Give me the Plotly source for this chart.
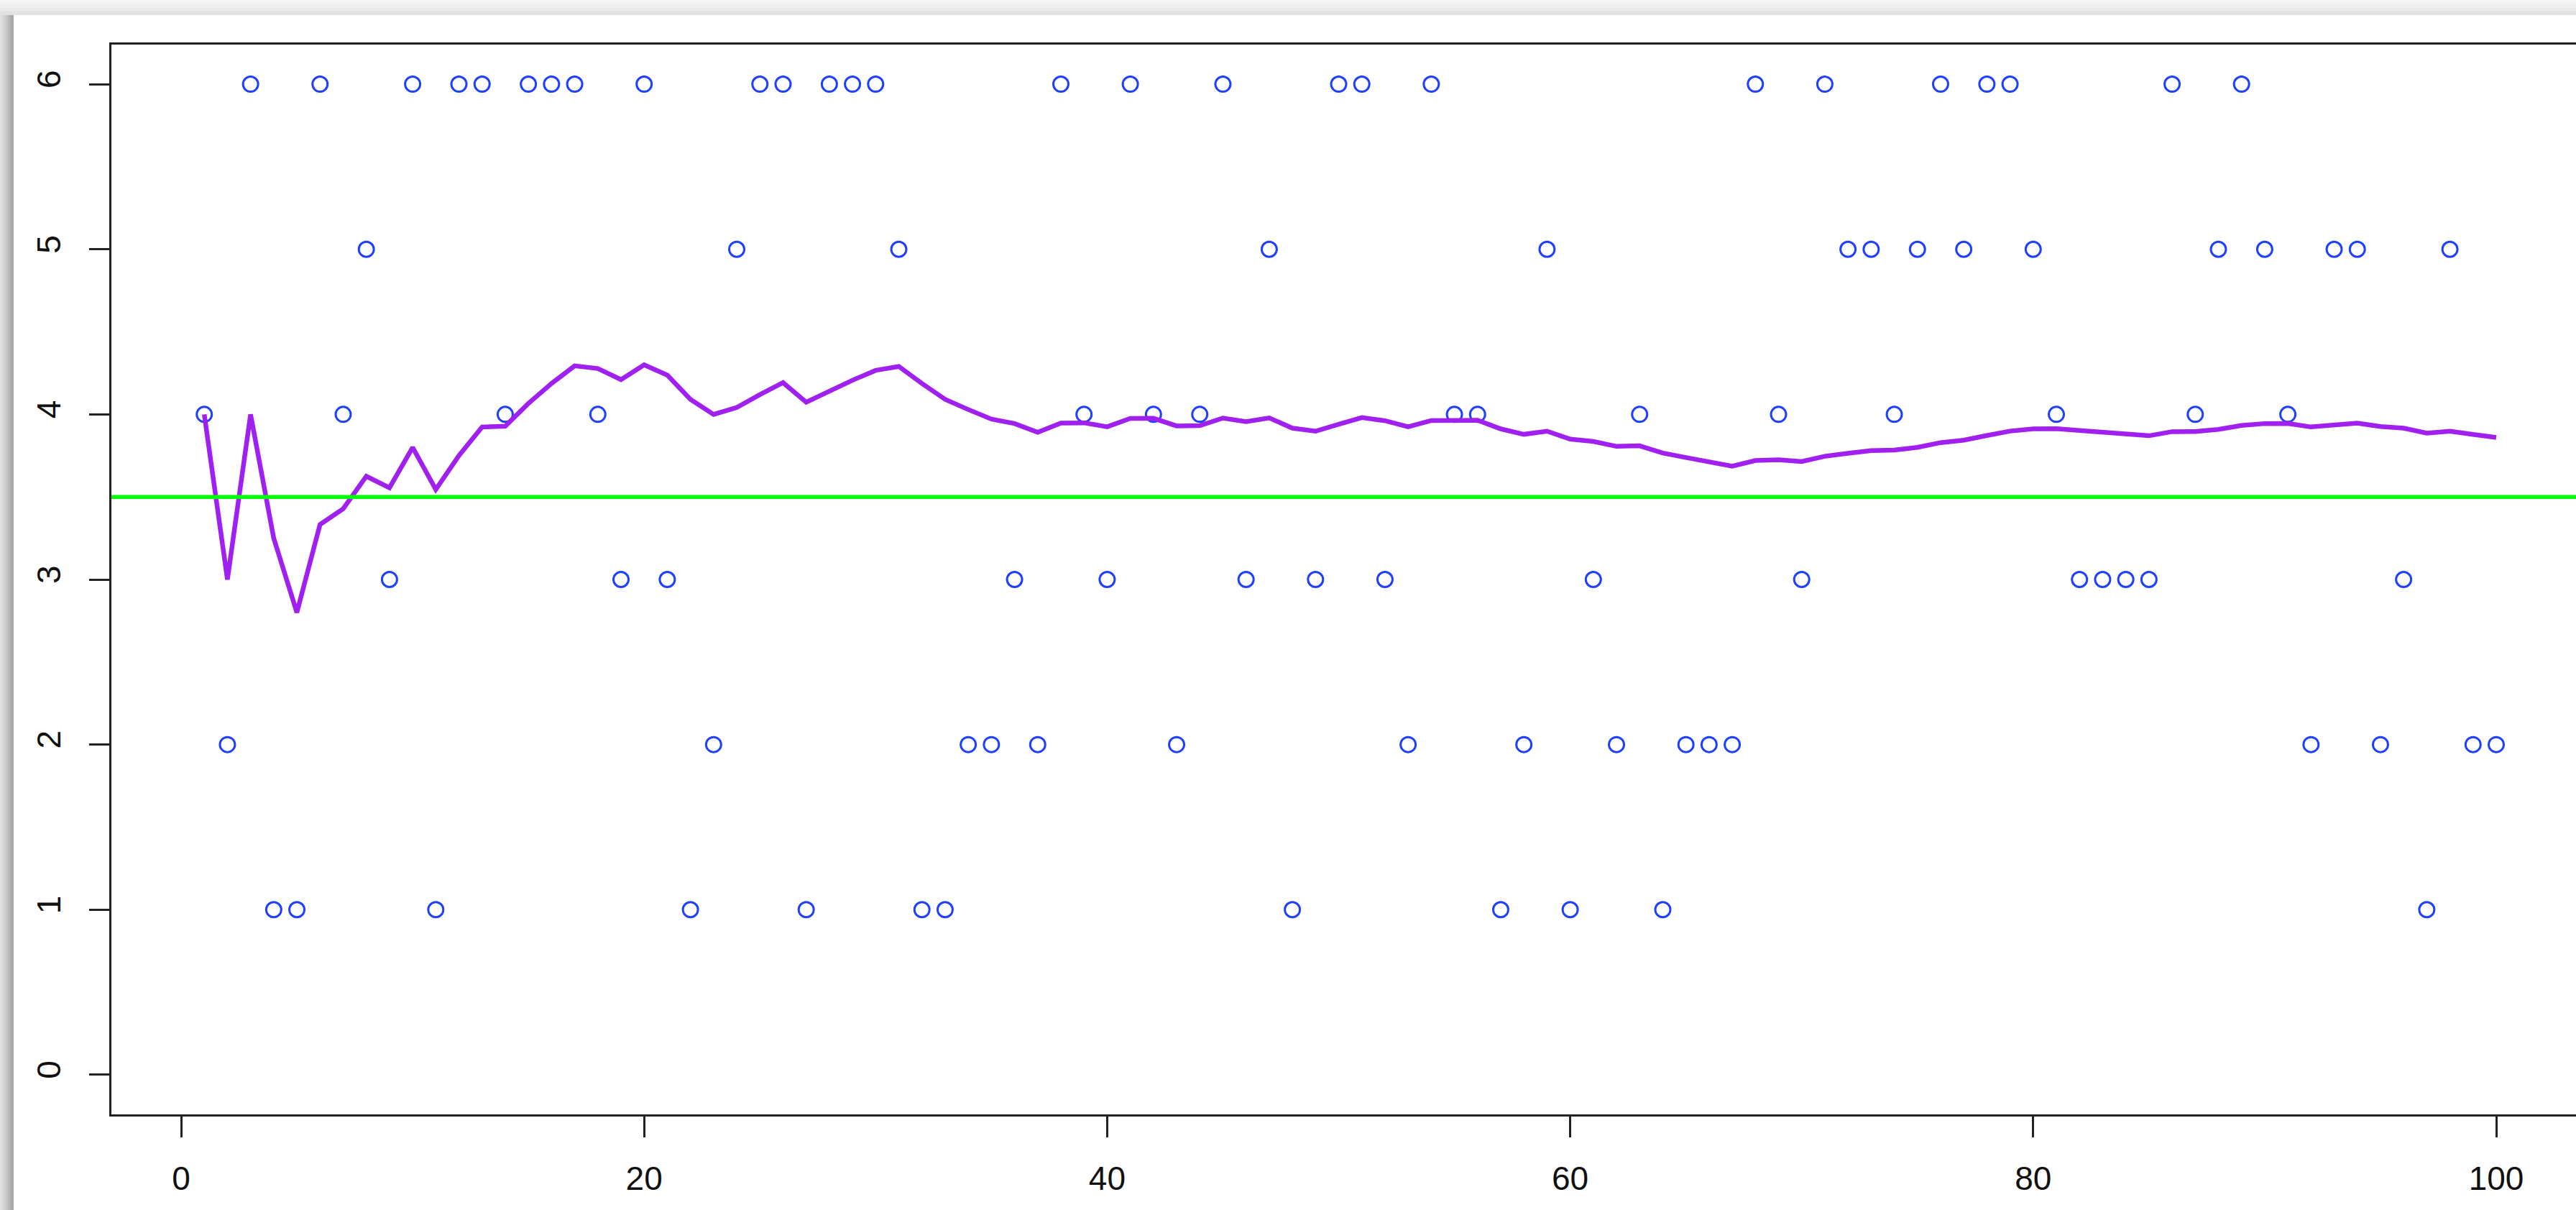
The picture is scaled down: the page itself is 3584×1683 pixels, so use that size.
import numpy as np
import plotly.graph_objects as go

# Dice rolls (trial number 1..100)
trials = list(range(1, 101))
rolls = [4, 2, 6, 1, 1, 6, 4, 5, 3, 6,
         1, 6, 6, 4, 6, 6, 6, 4, 3, 6,
         3, 1, 2, 5, 6, 6, 1, 6, 6, 6,
         5, 1, 1, 2, 2, 3, 2, 6, 4, 3,
         6, 4, 2, 4, 6, 3, 5, 1, 3, 6,
         6, 3, 2, 6, 4, 4, 1, 2, 5, 1,
         3, 2, 4, 1, 2, 2, 2, 6, 4, 3,
         6, 5, 5, 4, 5, 6, 5, 6, 6, 5,
         4, 3, 3, 3, 3, 6, 4, 5, 6, 5,
         4, 2, 5, 5, 2, 3, 1, 5, 2, 2]
expected_value = 3.5
x_ticks = [0, 20, 40, 60, 80, 100]
y_ticks = [0, 1, 2, 3, 4, 5, 6]

running_mean = np.cumsum(rolls) / np.arange(1, len(rolls) + 1)

W, H = 3584, 1683
L, T, B = 155, 62, 1550
PW, PH = W - L, B - T

def px_x(px):
    return (px - L) / PW

def px_y(py):
    return (B - py) / PH

fig = go.Figure()
fig.add_trace(go.Scatter(
    x=trials, y=rolls, mode="markers",
    marker=dict(symbol="circle-open", size=21, color="#2040ff",
                line=dict(width=3, color="#2040ff")),
    showlegend=False, hoverinfo="skip"))
fig.add_trace(go.Scatter(
    x=trials, y=running_mean, mode="lines",
    line=dict(color="#a020f0", width=6.5),
    showlegend=False, hoverinfo="skip"))
fig.add_trace(go.Scatter(
    x=[-10, 200], y=[expected_value, expected_value], mode="lines",
    line=dict(color="#00ff00", width=5.5),
    showlegend=False, hoverinfo="skip"))

shapes = []
# window chrome: top bar gradient
top_cols = ["#f7f7f7", "#f2f2f2", "#eeeeee", "#e9e9e9", "#e2e2e2"]
for i, c in enumerate(top_cols):
    y0 = i * 21 / len(top_cols)
    y1 = (i + 1) * 21 / len(top_cols)
    shapes.append(dict(type="rect", xref="paper", yref="paper",
                       x0=px_x(0), x1=px_x(W + 5), y0=px_y(y1), y1=px_y(y0) + 0.001,
                       fillcolor=c, line=dict(width=0), layer="below"))
left_cols = ["#e4e4e4", "#dcdcdc", "#d2d2d2", "#c6c6c6", "#b8b8b8", "#a9a9a9"]
for i, c in enumerate(left_cols):
    x0 = i * 19 / len(left_cols)
    x1 = (i + 1) * 19 / len(left_cols)
    shapes.append(dict(type="rect", xref="paper", yref="paper",
                       x0=px_x(x0) - 0.0005, x1=px_x(x1), y0=px_y(H + 5), y1=px_y(21),
                       fillcolor=c, line=dict(width=0), layer="below"))

fig.update_layout(
    width=W, height=H,
    margin=dict(l=L, r=0, t=T, b=H - B, pad=0),
    paper_bgcolor="white", plot_bgcolor="white",
    font=dict(family="Liberation Sans, Arial, Helvetica, sans-serif", size=46, color="#111111"),
    shapes=shapes,
    xaxis=dict(range=[-(252 - 155) / 32.21, 100 + (W - 3473) / 32.21],
               tickvals=x_ticks, ticks="outside", ticklen=29, tickwidth=3, tickcolor="#222222",
               showline=True, linewidth=3, linecolor="#222222", mirror=True,
               showgrid=False, zeroline=False, ticklabelstandoff=18),
    yaxis=dict(range=[-0.24, 6.24], tickvals=y_ticks, ticks="outside", ticklen=28,
               tickwidth=3, tickcolor="#222222", tickangle=-90,
               showline=True, linewidth=3, linecolor="#222222", mirror=False,
               showgrid=False, zeroline=False, ticklabelstandoff=22),
)

fig.write_html("out.html", config={"displayModeBar": False},
               post_script="document.body.style.margin='0';document.body.style.overflow='hidden';")
